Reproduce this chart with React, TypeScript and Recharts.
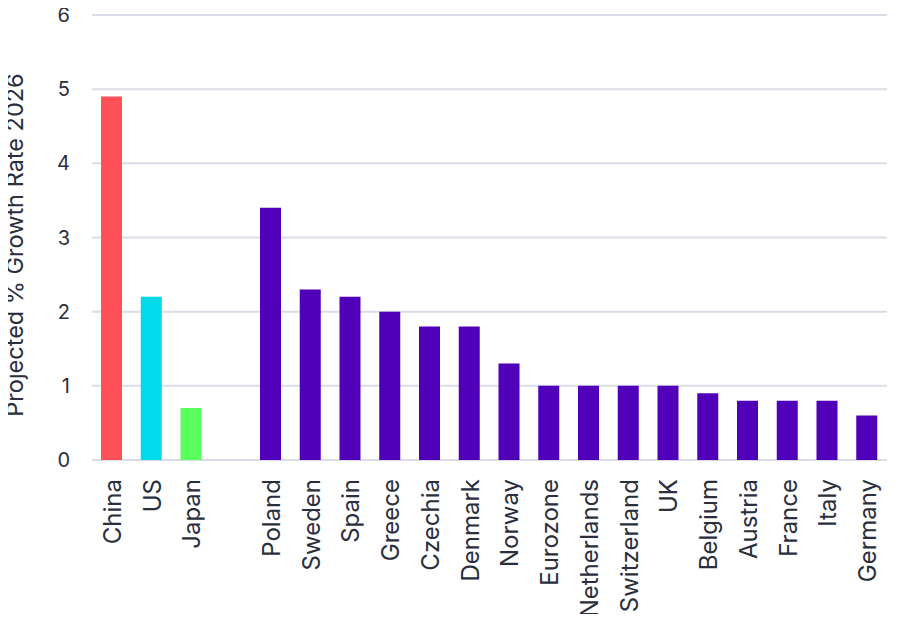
import React from "react";
import { BarChart, Bar, XAxis, YAxis, CartesianGrid, Cell } from "recharts";

const countries = [
  "China", "US", "Japan", "",
  "Poland", "Sweden", "Spain", "Greece", "Czechia", "Denmark", "Norway",
  "Eurozone", "Netherlands", "Switzerland", "UK", "Belgium", "Austria",
  "France", "Italy", "Germany",
];
const growth = [
  4.9, 2.2, 0.7, null,
  3.4, 2.3, 2.2, 2.0, 1.8, 1.8, 1.3,
  1.0, 1.0, 1.0, 1.0, 0.9, 0.8,
  0.8, 0.8, 0.6,
];
const yTicks = [0, 1, 2, 3, 4, 5, 6];
const yTitle = "Projected % Growth Rate 2026";

const highlight: Record<string, string> = {
  China: "#FF5058",
  US: "#00DAEA",
  Japan: "#5BFF5B",
};
const europeColor = "#5000B8";
const textColor = "#2A2E3D";
const font = "Inter, 'Noto Sans', sans-serif";

const data = countries.map((name, i) => ({ name, value: growth[i] }));

function CountryTick(props: any) {
  const { x, y, payload } = props;
  const ty = y + 11;
  return (
    <text
      x={x}
      y={ty}
      transform={`rotate(-90, ${x}, ${ty})`}
      textAnchor="end"
      dy="0.38em"
      fill={textColor}
      fontSize={24}
      fontFamily={font}
    >
      {payload.value}
    </text>
  );
}

export default function App() {
  // negative margin cancels the body margin so the chart fills the window
  return (
    <div style={{ margin: -8, width: 898, height: 622, position: "relative" }}>
      <BarChart
        width={898}
        height={622}
        data={data}
        margin={{ top: 15, right: 11, left: 8, bottom: 8 }}
      >
        <CartesianGrid vertical={false} stroke="#D9DDE8" strokeWidth={2} />
        <XAxis
          dataKey="name"
          interval={0}
          height={154}
          axisLine={false}
          tickLine={false}
          tick={<CountryTick />}
        />
        <YAxis
          domain={[0, 6]}
          ticks={yTicks}
          width={84}
          axisLine={false}
          tickLine={false}
          tickSize={0}
          tickMargin={22}
          tick={{ fill: textColor, fontSize: 20, fontFamily: font }}
        />
        <Bar dataKey="value" barSize={21} isAnimationActive={false}>
          {data.map((d) => (
            <Cell key={d.name || "gap"} fill={highlight[d.name] ?? europeColor} />
          ))}
        </Bar>
      </BarChart>
      <div
        style={{
          position: "absolute",
          left: 15 - 200,
          top: 245 - 12,
          width: 400,
          height: 24,
          lineHeight: "24px",
          textAlign: "center",
          whiteSpace: "nowrap",
          transform: "rotate(-90deg)",
          fontFamily: font,
          fontSize: 23.5,
          color: textColor,
        }}
      >
        {yTitle}
      </div>
    </div>
  );
}
